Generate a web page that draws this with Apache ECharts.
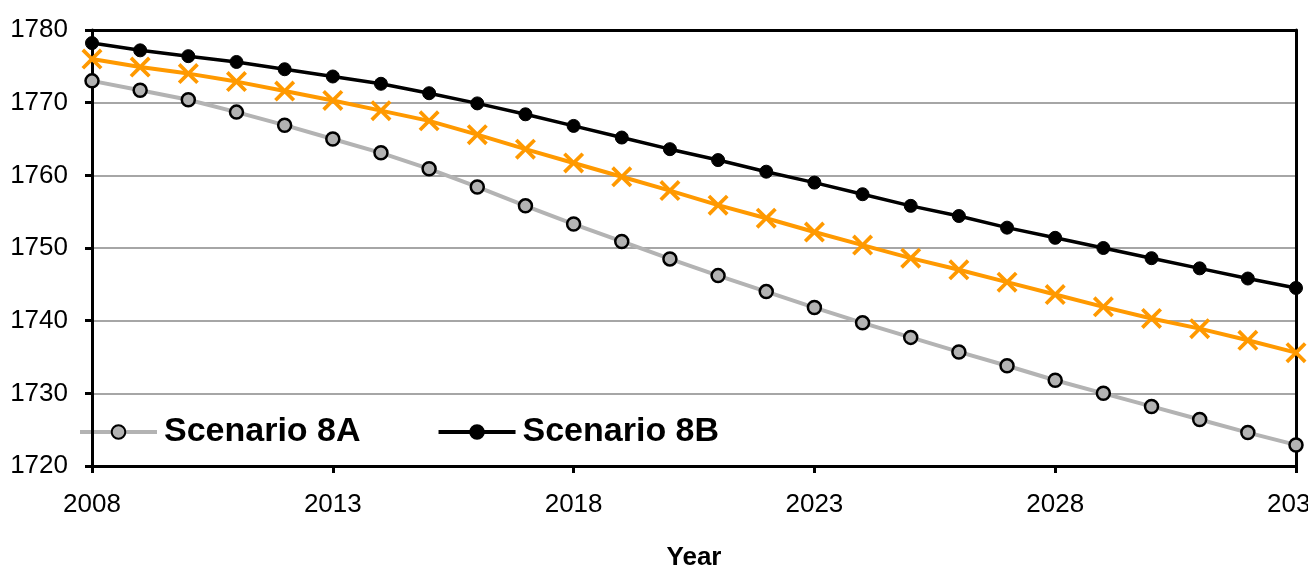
<!DOCTYPE html>
<html>
<head>
<meta charset="utf-8">
<script src="https://cdn.jsdelivr.net/npm/echarts@6/dist/echarts.min.js"></script>
<style>
html,body{margin:0;padding:0;background:#fff;}
#chart{width:1308px;height:571px;}
</style>
</head>
<body>
<div id="chart"></div>
<script>
// Years on the horizontal axis
const years = [];
for (let y = 2008; y <= 2033; y++) years.push(String(y));

// Projected values per scenario
const scenario8A = [1773.0, 1771.7, 1770.4, 1768.7, 1766.9, 1765.0, 1763.1, 1760.9, 1758.4, 1755.8,
  1753.3, 1750.9, 1748.5, 1746.2, 1744.0, 1741.8, 1739.7, 1737.7, 1735.7, 1733.8,
  1731.8, 1730.0, 1728.2, 1726.4, 1724.6, 1722.9];
const scenarioMid = [1776.0, 1774.9, 1774.0, 1772.9, 1771.6, 1770.3, 1768.9, 1767.5, 1765.6, 1763.6,
  1761.7, 1759.8, 1757.9, 1755.9, 1754.1, 1752.2, 1750.4, 1748.6, 1747.0, 1745.3,
  1743.6, 1741.9, 1740.3, 1738.9, 1737.3, 1735.6];
const scenario8B = [1778.2, 1777.2, 1776.4, 1775.6, 1774.6, 1773.6, 1772.6, 1771.3, 1769.9, 1768.4,
  1766.8, 1765.2, 1763.6, 1762.1, 1760.5, 1759.0, 1757.4, 1755.8, 1754.4, 1752.8,
  1751.4, 1750.0, 1748.6, 1747.2, 1745.8, 1744.5];

const font = 'Liberation Sans, Arial, sans-serif';
const xMark = 'path://M0,2.5L2.5,0L10,7.5L17.5,0L20,2.5L12.5,10L20,17.5L17.5,20L10,12.5L2.5,20L0,17.5L7.5,10Z';

const chart = echarts.init(document.getElementById('chart'));
chart.setOption({
  animation: false,
  backgroundColor: '#ffffff',
  grid: {
    left: 92, right: 12, top: 30, bottom: 105,
    outerBoundsMode: 'none', containLabel: false
  },
  legend: {
    data: ['Scenario 8A', 'Scenario 8B'],
    left: 73, top: 410,
    itemWidth: 77, itemHeight: 17, itemGap: 76,
    lineStyle: { width: 4 },
    textStyle: { fontFamily: font, fontSize: 34, fontWeight: 'bold', color: '#000', padding: [0, 0, 0, 2] }
  },
  xAxis: [{
    type: 'category',
    data: years,
    boundaryGap: false,
    name: 'Year',
    nameLocation: 'middle',
    nameGap: 79,
    nameTextStyle: { fontFamily: font, fontSize: 26, fontWeight: 'bold', color: '#000' },
    axisLine: { lineStyle: { color: '#000', width: 3 } },
    axisTick: { interval: 4, length: 7, lineStyle: { color: '#000', width: 3 } },
    axisLabel: { interval: 4, margin: 26, fontFamily: font, fontSize: 26, color: '#000' },
    splitLine: { show: false },
    z: 5
  }, {
    // top frame edge
    type: 'category', data: years, boundaryGap: false, position: 'top',
    axisLine: { lineStyle: { color: '#000', width: 3 } },
    axisTick: { show: false }, axisLabel: { show: false }, splitLine: { show: false },
    z: 5
  }],
  yAxis: [{
    type: 'value',
    min: 1720, max: 1780, interval: 10,
    axisLine: { show: true, lineStyle: { color: '#000', width: 3 } },
    axisTick: { show: true, length: 7, lineStyle: { color: '#000', width: 3 } },
    axisLabel: { margin: 24, fontFamily: font, fontSize: 26, color: '#000', formatter: v => String(v) },
    splitLine: { lineStyle: { color: '#888', width: 1.5 } },
    z: 5
  }, {
    // right frame edge
    type: 'value', min: 1720, max: 1780, interval: 10, position: 'right',
    axisLine: { show: true, lineStyle: { color: '#000', width: 3 } },
    axisTick: { show: false }, axisLabel: { show: false }, splitLine: { show: false },
    z: 5
  }],
  series: [
    {
      name: 'Scenario 8A', type: 'line', data: scenario8A,
      symbol: 'circle', symbolSize: 13, showAllSymbol: true,
      lineStyle: { color: '#b3b3b3', width: 4 },
      itemStyle: { color: '#b3b3b3', borderColor: '#000', borderWidth: 2.5 },
      z: 6
    },
    {
      name: 'Scenario 8', type: 'line', data: scenarioMid,
      symbol: xMark, symbolSize: 21, showAllSymbol: true,
      lineStyle: { color: '#ff9900', width: 4 },
      itemStyle: { color: '#ff9900', borderWidth: 0 },
      z: 7
    },
    {
      name: 'Scenario 8B', type: 'line', data: scenario8B,
      symbol: 'circle', symbolSize: 13, showAllSymbol: true,
      lineStyle: { color: '#000', width: 3.5 },
      itemStyle: { color: '#000', borderColor: '#000', borderWidth: 1 },
      z: 8
    }
  ]
});
</script>
</body>
</html>
